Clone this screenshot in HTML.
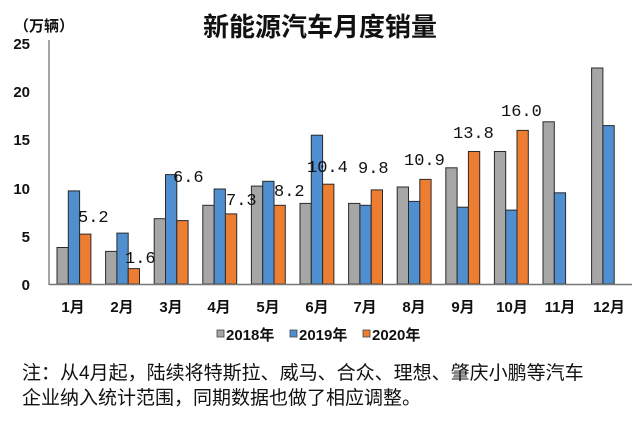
<!DOCTYPE html>
<html><head><meta charset="utf-8"><style>
body{margin:0;background:#fff}
svg{display:block}
.c{font-family:"Liberation Sans","Noto Sans CJK SC",sans-serif}
.v{font-family:"Liberation Mono","Noto Sans CJK SC",monospace;font-size:17px;fill:#111}
</style></head><body>
<svg width="641" height="427" viewBox="0 0 641 427" xmlns="http://www.w3.org/2000/svg">
<rect width="641" height="427" fill="#fff"/>
<text x="320" y="36" text-anchor="middle" class="c" font-size="26" font-weight="bold" fill="#111">新能源汽车月度销量</text>
<text x="14" y="31" class="c" font-size="15" font-weight="bold" fill="#111">（万辆）</text>
<g class="c" font-size="15" fill="#111" text-anchor="end" font-weight="bold">
<text x="30" y="49">25</text><text x="30" y="97">20</text><text x="30" y="145">15</text>
<text x="30" y="194">10</text><text x="30" y="242">5</text><text x="30" y="290">0</text>
</g>
<line x1="49" y1="40" x2="49" y2="285" stroke="#888" stroke-width="1.5"/>
<g stroke="#2a2a2a" stroke-width="1">
<g fill="#a6a6a6">
<rect x="57" y="247.5" width="11.3" height="36.5"/>
<rect x="105.6" y="251.4" width="11.3" height="32.6"/>
<rect x="154.2" y="218.7" width="11.3" height="65.3"/>
<rect x="202.8" y="205.3" width="11.3" height="78.7"/>
<rect x="251.4" y="186.1" width="11.3" height="97.9"/>
<rect x="300" y="203.4" width="11.3" height="80.6"/>
<rect x="348.6" y="203.4" width="11.3" height="80.6"/>
<rect x="397.2" y="187" width="11.3" height="97"/>
<rect x="445.8" y="167.8" width="11.3" height="116.2"/>
<rect x="494.4" y="151.5" width="11.3" height="132.5"/>
<rect x="543" y="121.8" width="11.3" height="162.2"/>
<rect x="591.6" y="68" width="11.3" height="216"/>
</g>
<g fill="#4f8fd0">
<rect x="68.3" y="190.9" width="11.3" height="93.1"/>
<rect x="116.9" y="233.1" width="11.3" height="50.9"/>
<rect x="165.5" y="174.6" width="11.3" height="109.4"/>
<rect x="214.1" y="189" width="11.3" height="95"/>
<rect x="262.7" y="181.3" width="11.3" height="102.7"/>
<rect x="311.3" y="135.2" width="11.3" height="148.8"/>
<rect x="359.9" y="205.3" width="11.3" height="78.7"/>
<rect x="408.5" y="201.4" width="11.3" height="82.6"/>
<rect x="457.1" y="207.2" width="11.3" height="76.8"/>
<rect x="505.7" y="210.1" width="11.3" height="73.9"/>
<rect x="554.3" y="192.8" width="11.3" height="91.2"/>
<rect x="602.9" y="125.6" width="11.3" height="158.4"/>
</g>
<g fill="#ed7d31">
<rect x="79.6" y="234.1" width="11.3" height="49.9"/>
<rect x="128.2" y="268.6" width="11.3" height="15.4"/>
<rect x="176.8" y="220.6" width="11.3" height="63.4"/>
<rect x="225.4" y="213.9" width="11.3" height="70.1"/>
<rect x="274" y="205.3" width="11.3" height="78.7"/>
<rect x="322.6" y="184.2" width="11.3" height="99.8"/>
<rect x="371.2" y="189.9" width="11.3" height="94.1"/>
<rect x="419.8" y="179.4" width="11.3" height="104.6"/>
<rect x="468.4" y="151.5" width="11.3" height="132.5"/>
<rect x="517" y="130.4" width="11.3" height="153.6"/>
</g>
</g>
<line x1="49" y1="284.5" x2="632" y2="284.5" stroke="#777" stroke-width="1.5"/>
<g class="v">
<text x="78" y="222">5.2</text><text x="125" y="263">1.6</text><text x="173" y="182">6.6</text>
<text x="226" y="205">7.3</text><text x="274" y="196">8.2</text><text x="307" y="172">10.4</text>
<text x="358" y="173">9.8</text><text x="404" y="165">10.9</text><text x="453" y="138">13.8</text>
<text x="501" y="116">16.0</text>
</g>
<g class="c" font-size="15" fill="#111" text-anchor="middle" font-weight="bold">
<text x="73" y="312">1月</text><text x="122" y="312">2月</text><text x="171" y="312">3月</text>
<text x="219" y="312">4月</text><text x="268" y="312">5月</text><text x="317" y="312">6月</text>
<text x="365" y="312">7月</text><text x="414" y="312">8月</text><text x="463" y="312">9月</text>
<text x="512" y="312">10月</text><text x="560" y="312">11月</text><text x="609" y="312">12月</text>
</g>
<g class="c" font-size="15" fill="#111" font-weight="bold">
<rect x="217" y="330" width="7" height="7" fill="#a6a6a6" stroke="#444" stroke-width="0.8"/><text x="226" y="340">2018年</text>
<rect x="290" y="330" width="7" height="7" fill="#4f8fd0" stroke="#444" stroke-width="0.8"/><text x="299" y="340">2019年</text>
<rect x="363" y="330" width="7" height="7" fill="#ed7d31" stroke="#444" stroke-width="0.8"/><text x="372" y="340">2020年</text>
</g>
<g class="c" font-size="19" fill="#111">
<text x="22" y="379">注：从4月起，陆续将特斯拉、威马、合众、理想、肇庆小鹏等汽车</text>
<text x="22" y="404">企业纳入统计范围，同期数据也做了相应调整。</text>
</g>
</svg>
</body></html>
